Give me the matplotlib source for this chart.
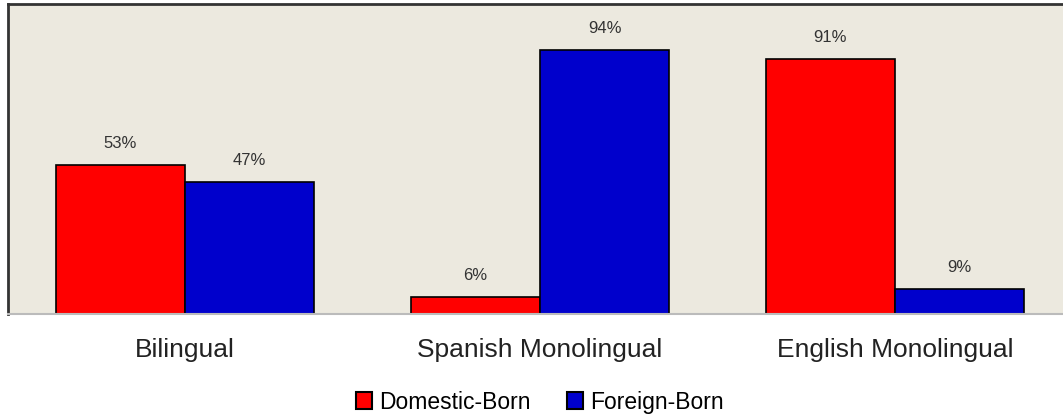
import numpy as np
import matplotlib
matplotlib.use("Agg")
import matplotlib.pyplot as plt
from matplotlib.patches import Patch

categories = ["Bilingual", "Spanish Monolingual", "English Monolingual"]
domestic = [53, 6, 91]
foreign = [47, 94, 9]
series_names = ["Domestic-Born", "Foreign-Born"]

plt.rcParams['font.family'] = ['Liberation Sans', 'DejaVu Sans']

fig = plt.figure(figsize=(10.63, 4.19), dpi=100)
ax = fig.add_axes([7.5 / 1063, 105 / 419, 1065 / 1063, 310 / 419])
ax.set_facecolor("#ECE9DF")

x = np.arange(len(categories))
w = 0.364
b1 = ax.bar(x - w / 2, domestic, w, color="#FF0000", edgecolor="black", linewidth=1.2)
b2 = ax.bar(x + w / 2, foreign, w, color="#0000CC", edgecolor="black", linewidth=1.2)

for bars, vals in [(b1, domestic), (b2, foreign)]:
    for r, v in zip(bars, vals):
        ax.annotate(f"{v}%", (r.get_x() + r.get_width() / 2, v), xytext=(0, 10),
                    textcoords="offset points", ha="center", va="bottom",
                    fontsize=12, color="#333333")

ax.set_xlim(-0.5, 2.5)
ax.set_ylim(0, 110.5)
ax.set_yticks([])
ax.set_xticks(x)
ax.set_xticklabels(categories, fontsize=19, color="#222222")
ax.tick_params(axis="x", length=0, pad=17)

ax.spines["left"].set_color("#333333")
ax.spines["left"].set_linewidth(2)
ax.spines["top"].set_color("#333333")
ax.spines["top"].set_linewidth(2)
ax.spines["bottom"].set_color("#BBBBBB")
ax.spines["bottom"].set_linewidth(1.5)
ax.spines["right"].set_visible(False)

handles = [Patch(facecolor="#FF0000", edgecolor="black", linewidth=1.5),
           Patch(facecolor="#0000CC", edgecolor="black", linewidth=1.5)]
fig.legend(handles, series_names, loc="center", bbox_to_anchor=(540 / 1063, 1 - 402 / 419),
           ncol=2, frameon=False, fontsize=16.5, handlelength=0.7, handleheight=0.7,
           handletextpad=0.3, columnspacing=1.6)

fig.savefig("out.png", dpi=100)
